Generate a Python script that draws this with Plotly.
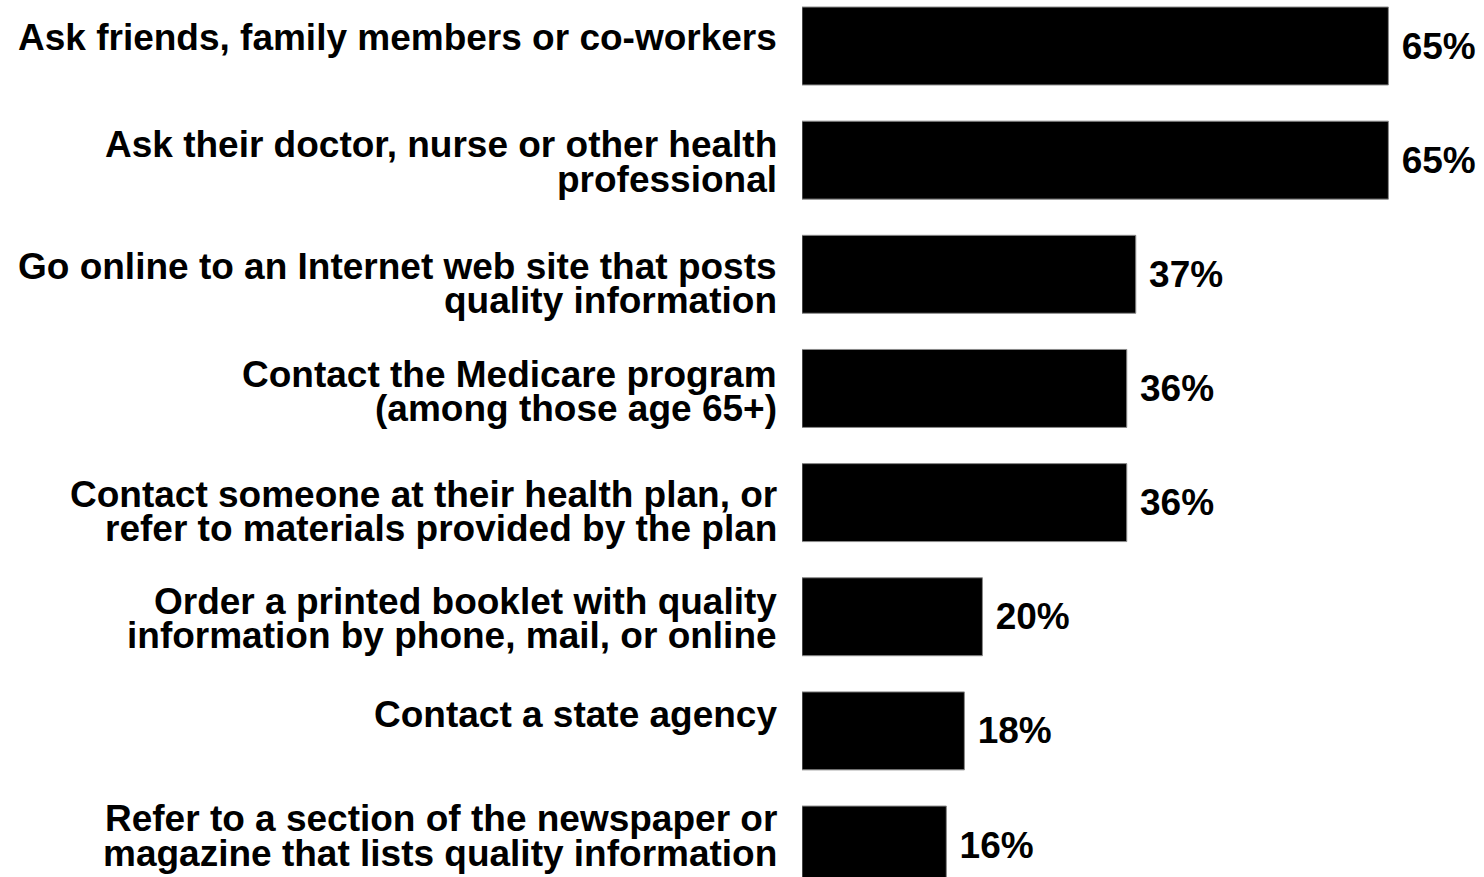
import plotly.graph_objects as go

# Survey responses: where people would look for health care quality information
categories = [
    "Ask friends, family members or co-workers",
    "Ask their doctor, nurse or other health<br>professional",
    "Go online to an Internet web site that posts<br>quality information",
    "Contact the Medicare program<br>(among those age 65+)",
    "Contact someone at their health plan, or<br>refer to materials provided by the plan",
    "Order a printed booklet with quality<br>information by phone, mail, or online",
    "Contact a state agency",
    "Refer to a section of the newspaper or<br>magazine that lists quality information",
]
percent = [65, 65, 37, 36, 36, 20, 18, 16]
value_labels = [f"\u00a0{v}%" for v in percent]

positions = list(range(len(categories)))

FONT = "Liberation Sans, Arial, sans-serif"
SIZE = 37

# category label layout: tight line pitch and small vertical nudges (px, + is down)
LINE_PITCH = 34.5
LABEL_NUDGE = [-9, 2, 9, 3, 9, 2, -16, -9]
LABEL_GAP = 24

fig = go.Figure(
    go.Bar(
        x=percent,
        y=positions,
        orientation="h",
        width=0.683,
        marker=dict(color="black", line=dict(color="#8a8a8a", width=1)),
        text=value_labels,
        textposition="outside",
        cliponaxis=False,
        textfont=dict(family=FONT, size=SIZE, color="black", weight="bold"),
        hoverinfo="skip",
    )
)

# category labels, one text per line so the line spacing stays tight
for pos, label, nudge in zip(positions, categories, LABEL_NUDGE):
    lines = label.split("<br>")
    n = len(lines)
    for j, line in enumerate(lines):
        offset = nudge + (j - (n - 1) / 2) * LINE_PITCH
        fig.add_annotation(
            x=0,
            y=pos,
            xref="x",
            yref="y",
            text=line,
            showarrow=False,
            xanchor="right",
            yanchor="middle",
            xshift=-LABEL_GAP,
            yshift=-offset,
            align="right",
            borderpad=0,
            font=dict(family=FONT, size=SIZE, color="black", weight="bold"),
        )

fig.update_layout(
    width=1484,
    height=877,
    margin=dict(l=802, r=0, t=0, b=0, pad=0, autoexpand=False),
    paper_bgcolor="white",
    plot_bgcolor="white",
    showlegend=False,
    font=dict(family=FONT, color="black"),
)

fig.update_xaxes(
    range=[0, 75.6],
    visible=False,
    showgrid=False,
    zeroline=False,
    automargin=False,
)

fig.update_yaxes(
    range=[7.280, -0.403],
    tickmode="array",
    tickvals=positions,
    showticklabels=False,
    ticks="",
    automargin=False,
    showgrid=False,
    zeroline=False,
    showline=False,
)

fig.write_html("out.html")
